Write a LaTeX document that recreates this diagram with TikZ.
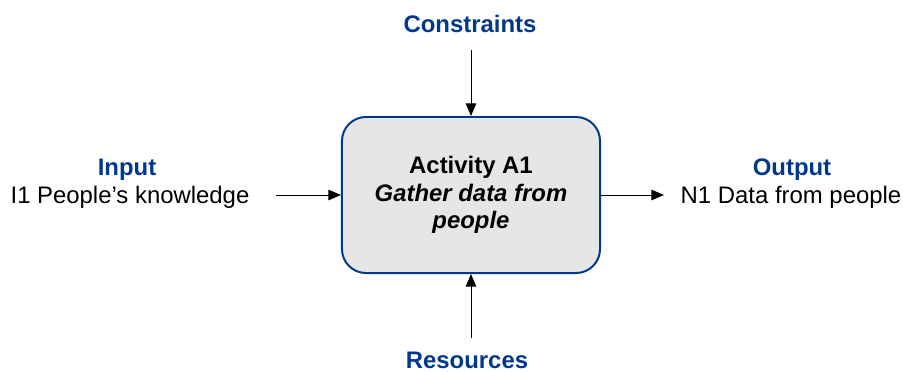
\documentclass[tikz,border=0pt]{standalone}
\usepackage{fontspec}
\setmainfont{Liberation Sans}
\usepackage{tikz}
\usetikzlibrary{positioning,arrows.meta,calc}
\definecolor{idefblue}{RGB}{0,56,140}
\definecolor{boxgray}{RGB}{230,230,230}

\begin{document}
\begin{tikzpicture}[x=0.025cm,y=-0.025cm,
	every node/.style={font=\fontsize{17}{19.5}\selectfont, inner sep=0pt},
	head/.style={font=\fontsize{17}{19.5}\selectfont\bfseries, text=idefblue},
	activity/.style={draw=idefblue, line width=1.4pt, fill=boxgray, rounded corners=0.6cm,
		minimum width=6.45cm, minimum height=3.9cm, align=center},
	>={Triangle[length=9pt,width=7.5pt]}]
	\useasboundingbox (0,0) rectangle (903,371);
	% the activity box
	\node[activity] (act) at (471,195) {\textbf{Activity A1}\\\textbf{\itshape Gather data from}\\\textbf{\itshape people}};
	% labels round it
	\node[head, anchor=base] (con) at (470,32) {Constraints};
	\node[head, anchor=base] (res) at (467,368) {Resources};
	\node[head, anchor=base] (inh) at (127,175) {Input};
	\node[anchor=base] (inl) at (130,203) {I1 People’s knowledge};
	\node[head, anchor=base] (outh) at (792,175) {Output};
	\node[anchor=base] (outl) at (791,203) {N1 Data from people};
	% free ends of the arrows
	\coordinate (conS) at (471,50);
	\coordinate (resN) at (471,338);
	\coordinate (inE) at (276,195);
	\coordinate (outW) at (664,195);
	\draw[->, line width=0.7pt] (conS) -- (act.north);
	\draw[->, line width=0.7pt] (resN) -- (act.south);
	\draw[->, line width=0.7pt] (inE) -- (act.west);
	\draw[->, line width=0.7pt] (act.east) -- (outW);
\end{tikzpicture}
\end{document}
